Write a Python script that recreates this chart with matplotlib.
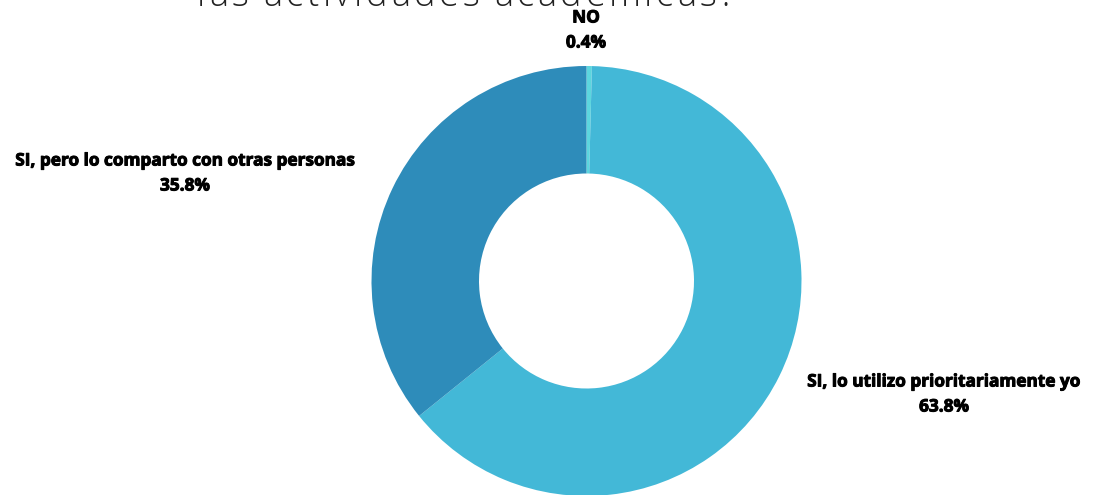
import matplotlib
matplotlib.use("Agg")
import matplotlib.pyplot as plt
import matplotlib.patheffects as pe

categories = ["NO", "SI, lo utilizo prioritariamente yo", "SI, pero lo comparto con otras personas"]
values = [0.4, 63.8, 35.8]
colors = ["#5CD6DE", "#43B8D7", "#2E8CBA"]
title_text = "las actividades académicas?"

W, H = 1093, 495
fig = plt.figure(figsize=(W / 100, H / 100), dpi=100)
cx, cy, r = 586.5, 281, 215
ax = fig.add_axes([(cx - r) / W, (H - cy - r) / H, 2 * r / W, 2 * r / H])
ax.pie(values, colors=colors, startangle=90, counterclock=False,
       wedgeprops=dict(width=0.5, linewidth=0), radius=1)
ax.set_xlim(-1, 1)
ax.set_ylim(-1, 1)
ax.set_aspect("equal")
ax.axis("off")

lab_font = dict(family=["Open Sans", "DejaVu Sans"], fontweight="bold", fontstretch="normal",
                fontsize=12.4, color="#000000")
label_pos = [(586, 30), (944, 394), (185, 173)]
for cat, v, (x, y) in zip(categories, values, label_pos):
    fig.text(x / W, 1 - y / H, f"{cat}\n{v:.1f}%", ha="center", va="center",
             linespacing=1.5,
             path_effects=[pe.withStroke(linewidth=0.7, foreground="#000000")],
             **lab_font)

# letter-spaced title (partly cut off at the top, as in the reference)
renderer = fig.canvas.get_renderer()
tfont = dict(family=["Open Sans", "DejaVu Sans"], fontweight="light", fontsize=26, color="#222222")
x0, x1 = 197, 735
ybase = 1 - 6 / H
widths = []
for ch in title_text:
    if ch == " ":
        widths.append(None)
        continue
    t = fig.text(0, 0, ch, **tfont)
    widths.append(t.get_window_extent(renderer).width)
    t.remove()
space_w = 8.0
n_gaps = len(title_text) - 1
total_glyph = sum(w if w is not None else space_w for w in widths)
spacing = (x1 - x0 - total_glyph) / n_gaps
x = x0
for ch, w in zip(title_text, widths):
    if w is None:
        x += space_w + spacing
        continue
    fig.text(x / W, ybase, ch, ha="left", va="baseline", **tfont)
    x += w + spacing

fig.savefig("out.png", dpi=100)
